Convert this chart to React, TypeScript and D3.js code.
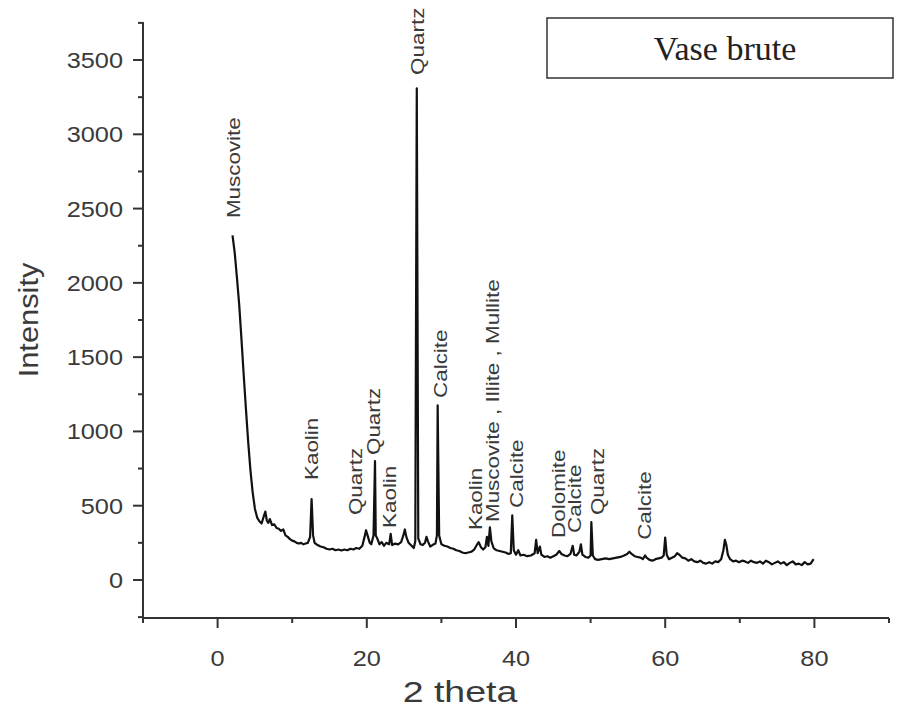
import React from "react";
import * as d3 from "d3";

// 2 theta (degrees)
const twoTheta = [
  2.0, 2.3, 2.6, 2.9, 3.2, 3.5, 3.8, 4.1, 4.4, 4.7, 5.0, 5.3, 5.6, 5.9, 6.2, 6.4, 6.6, 6.8, 7.0, 7.3,
  7.6, 7.9, 8.2, 8.5, 8.8, 9.1, 9.4, 9.7, 10.0, 10.3, 10.6, 10.9, 11.2, 11.5, 11.8, 12.1, 12.4, 12.6, 12.8, 13.0,
  13.4, 13.8, 14.2, 14.6, 15.0, 15.4, 15.8, 16.2, 16.6, 17.0, 17.4, 17.8, 18.2, 18.6, 19.0, 19.4, 19.7, 19.9, 20.1, 20.4,
  20.6, 20.9, 21.1, 21.2, 21.4, 21.7, 22.0, 22.3, 22.6, 23.0, 23.2, 23.4, 23.8, 24.2, 24.6, 24.9, 25.1, 25.3, 25.6, 26.0,
  26.3, 26.5, 26.7, 26.9, 27.2, 27.5, 27.8, 28.0, 28.2, 28.5, 28.8, 29.2, 29.4, 29.5, 29.7, 30.0, 30.4, 30.8, 31.2, 31.6,
  32.0, 32.4, 32.8, 33.2, 33.6, 34.0, 34.4, 34.8, 35.0, 35.3, 35.6, 35.9, 36.1, 36.3, 36.5, 36.7, 37.0, 37.4, 37.8, 38.2,
  38.6, 39.0, 39.3, 39.5, 39.7, 40.0, 40.3, 40.6, 41.0, 41.5, 42.0, 42.5, 42.7, 42.9, 43.2, 43.4, 43.8, 44.2, 44.6, 45.0,
  45.4, 45.8, 46.1, 46.5, 46.9, 47.3, 47.6, 47.8, 48.1, 48.5, 48.7, 48.9, 49.3, 49.7, 50.0, 50.1, 50.3, 50.6, 51.0, 51.5,
  52.0, 52.5, 53.0, 53.5, 54.0, 54.5, 54.9, 55.2, 55.5, 55.9, 56.3, 56.7, 57.0, 57.3, 57.5, 57.9, 58.3, 58.7, 59.1, 59.5,
  59.8, 60.0, 60.2, 60.5, 60.9, 61.3, 61.6, 61.9, 62.3, 62.7, 63.1, 63.5, 63.9, 64.3, 64.7, 65.1, 65.5, 65.9, 66.3, 66.7,
  67.1, 67.5, 67.8, 68.0, 68.2, 68.4, 68.7, 69.1, 69.5, 69.9, 70.3, 70.7, 71.1, 71.5, 71.9, 72.3, 72.7, 73.1, 73.5, 73.9,
  74.3, 74.7, 75.1, 75.5, 75.9, 76.3, 76.7, 77.1, 77.5, 77.9, 78.3, 78.7, 79.1, 79.5, 79.9,
];

// Intensity (counts)
const intensity = [
  2320, 2200, 2030, 1850, 1620, 1380, 1150, 930, 740, 590, 480, 420, 395, 380, 430, 460, 400, 385, 410, 370,
  375, 350, 345, 330, 340, 300, 290, 275, 265, 260, 250, 245, 250, 240, 245, 250, 290, 545, 300, 250,
  235, 225, 220, 210, 205, 210, 200, 205, 198, 205, 200, 210, 205, 215, 210, 230, 290, 335, 300, 250,
  240, 300, 800, 300, 280, 240, 255, 230, 250, 240, 310, 235, 245, 240, 255, 300, 340, 290, 250, 230,
  215, 260, 3310, 280, 240, 235, 250, 290, 260, 225, 235, 245, 300, 1175, 300, 240, 230, 225, 215, 210,
  200, 195, 185, 180, 185, 190, 205, 240, 255, 220, 205, 220, 290, 230, 355, 260, 215, 200, 195, 190,
  185, 175, 180, 435, 200, 170, 200, 165, 170, 160, 165, 180, 270, 180, 225, 170, 155, 160, 150, 160,
  170, 195, 175, 165, 160, 175, 230, 170, 165, 190, 240, 170, 155, 150, 165, 390, 165, 140, 135, 140,
  145, 140, 145, 150, 155, 165, 175, 190, 175, 160, 155, 150, 140, 165, 150, 135, 130, 140, 145, 150,
  165, 285, 170, 140, 150, 160, 180, 170, 150, 145, 130, 140, 125, 120, 130, 115, 110, 120, 110, 125,
  120, 140, 200, 270, 235, 170, 140, 125, 130, 120, 130, 125, 115, 130, 120, 115, 125, 110, 130, 120,
  105, 115, 125, 110, 120, 100, 115, 125, 105, 110, 100, 120, 105, 110, 140,
];

// Peak annotations: phase name, 2 theta position and intensity where the label starts
const peakNames = [
  "Muscovite", "Quartz", "Kaolin", "Quartz", "Quartz", "Kaolin", "Calcite",
  "Kaolin", "Muscovite , Illite , Mullite", "Calcite", "Dolomite", "Calcite", "Quartz", "Calcite",
];
const peakTheta = [2.1, 26.7, 12.5, 18.4, 20.8, 23.0, 29.8, 34.5, 36.8, 40.0, 45.6, 47.8, 50.9, 57.2];
const peakLabelBase = [2436, 3400, 673, 437, 841, 350, 1225, 336, 390, 485, 283, 316, 437, 270];

const xTicks = [0, 20, 40, 60, 80];
const xMinorTicks = [-10, 10, 30, 50, 70, 90];
const yTicks = [0, 500, 1000, 1500, 2000, 2500, 3000, 3500];
const yMinorTicks = [-250, 250, 750, 1250, 1750, 2250, 2750, 3250, 3750];

const sampleName = "Vase brute";
const xTitle = "2 theta";
const yTitle = "Intensity";

const W = 900;
const H = 716;
const AX = "#333";
const TXT = "#3a3a3a";
const SANS = "Arial, 'Liberation Sans', Helvetica, sans-serif";

export default function App() {
  const x = d3.scaleLinear().domain([-10, 90]).range([143, 889]);
  const y = d3.scaleLinear().domain([-256, 3756]).range([618, 22]);
  const pts = twoTheta.map((t, i) => [t, intensity[i]] as [number, number]);
  const line = d3
    .line<[number, number]>()
    .x((d) => x(d[0]))
    .y((d) => y(d[1]));

  const x0 = x.range()[0];
  const x1 = x.range()[1];
  const yb = y.range()[0];
  const yt = y.range()[1];

  return (
    <svg
      width={W}
      height={H}
      style={{ position: "absolute", left: 0, top: 0, background: "#fff" }}
    >
      <rect x={0} y={0} width={W} height={H} fill="#fff" />
      {/* spectrum */}
      <path d={line(pts) || ""} fill="none" stroke="#111" strokeWidth={2.2} strokeLinejoin="round" />

      {/* axes */}
      <line x1={x0} y1={yb} x2={x1} y2={yb} stroke={AX} strokeWidth={2} />
      <line x1={x0} y1={yb} x2={x0} y2={yt} stroke={AX} strokeWidth={2} />
      {xTicks.map((t) => (
        <g key={"xt" + t}>
          <line x1={x(t)} x2={x(t)} y1={yb} y2={yb + 10} stroke={AX} strokeWidth={2} />
          <text
            transform={`translate(${x(t)},${yb + 48}) scale(1.15,1)`}
            textAnchor="middle"
            fontFamily={SANS}
            fontSize={22}
            fill={TXT}
          >
            {t}
          </text>
        </g>
      ))}
      {xMinorTicks.map((t) => (
        <line key={"xm" + t} x1={x(t)} x2={x(t)} y1={yb} y2={yb + 5} stroke={AX} strokeWidth={2} />
      ))}
      {yTicks.map((t) => (
        <g key={"yt" + t}>
          <line x1={x0 - 10} x2={x0} y1={y(t)} y2={y(t)} stroke={AX} strokeWidth={2} />
          <text
            transform={`translate(${x0 - 20},${y(t)}) scale(1.15,1)`}
            dy="0.36em"
            textAnchor="end"
            fontFamily={SANS}
            fontSize={22}
            fill={TXT}
          >
            {t}
          </text>
        </g>
      ))}
      {yMinorTicks.map((t) => (
        <line key={"ym" + t} x1={x0 - 5} x2={x0} y1={y(t)} y2={y(t)} stroke={AX} strokeWidth={2} />
      ))}

      {/* axis titles */}
      <text
        transform={`translate(460,702) scale(1.25,1)`}
        textAnchor="middle"
        fontFamily={SANS}
        fontSize={30}
        fill={TXT}
      >
        {xTitle}
      </text>
      <text
        transform={`translate(38,320) rotate(-90) scale(1.1,1)`}
        textAnchor="middle"
        fontFamily={SANS}
        fontSize={28}
        fill={TXT}
      >
        {yTitle}
      </text>

      {/* peak labels */}
      {peakNames.map((name, i) => (
        <text
          key={"pk" + i}
          transform={`translate(${x(peakTheta[i])},${y(peakLabelBase[i])}) rotate(-90) scale(1.18,1)`}
          dy="0.36em"
          fontFamily={SANS}
          fontSize={19}
          fill={TXT}
        >
          {name}
        </text>
      ))}

      {/* sample box */}
      <rect x={547} y={18} width={346} height={60} fill="#fff" stroke={AX} strokeWidth={1.5} />
      <text
        x={725}
        y={60}
        textAnchor="middle"
        fontFamily="'Liberation Serif', 'Times New Roman', serif"
        fontSize={34}
        fill="#222"
      >
        {sampleName}
      </text>
    </svg>
  );
}
